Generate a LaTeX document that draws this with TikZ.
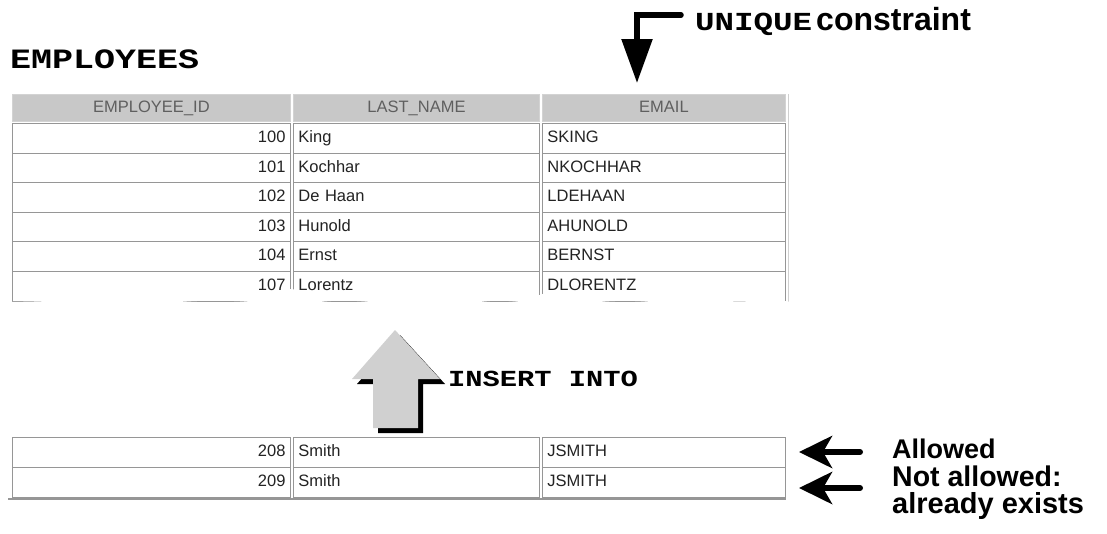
\documentclass[tikz,border=0pt]{standalone}
\usepackage{fontspec}
\setmainfont{Liberation Sans}
\newfontfamily\codefont{Liberation Mono}[FakeStretch=1.25]
\usetikzlibrary{arrows.meta}
\definecolor{ink}{RGB}{0,0,0}
\definecolor{paper}{RGB}{255,255,255}
\definecolor{headfill}{RGB}{200,200,200}
\definecolor{headtext}{RGB}{95,95,95}
\definecolor{celltext}{RGB}{35,35,35}
\definecolor{rule}{RGB}{150,150,150}
\definecolor{blockfill}{RGB}{208,208,208}
\tikzset{
  cell/.style={anchor=north west, draw=rule, line width=0.9pt, fill=white, minimum height=29.6pt, inner xsep=5pt, inner ysep=0pt, text height=11.5pt, text depth=3pt, font=\fontsize{16.5}{19}\selectfont, text=celltext},
  headcell/.style={cell, fill=headfill, draw=headfill!80!white, minimum height=27pt, align=center, font=\fontsize{16.5}{19}\selectfont, text=headtext},
  code/.style={text=ink, inner sep=0pt, anchor=base west},
  note/.style={font=\bfseries\fontsize{28.5}{24}\selectfont, text=ink, inner sep=0pt, anchor=base west},
  pointer/.style={-{Stealth[length=33pt,width=32pt,inset=9pt]}, line width=6pt, draw=ink, line cap=round},
  bendarrow/.style={-{Triangle[length=44pt,width=30pt]}, line width=5.5pt, draw=ink, line cap=round},
}
\newcommand{\TabRow}[5]{%
  \node[cell, text width=268pt, align=right] (#1-id) at (12,#2) {#3};
  \node[cell, text width=236pt, align=left] (#1-nm) at (293,#2) {#4};
  \node[cell, text width=233pt, align=left] (#1-em) at (542,#2) {#5};
}

\begin{document}
\begin{tikzpicture}[x=1pt,y=-1pt]
  \fill[paper] (0,0) rectangle (1107,533);
  \useasboundingbox (0,0) rectangle (1107,533);

  % Table title and header
  \node[code, font=\codefont\bfseries\fontsize{28}{32}\selectfont] (tbl) at (10,68) {EMPLOYEES};
  \node[headcell, text width=268pt] (h-id) at (12,94) {EMPLOYEE\_ID};
  \node[headcell, text width=236pt] (h-nm) at (293,94) {LAST\_NAME};
  \node[headcell, text width=233pt] (h-em) at (542,94) {EMAIL};

  % Existing rows
  \TabRow{r100}{123}{100}{King}{SKING}
  \TabRow{r101}{152.6}{101}{Kochhar}{NKOCHHAR}
  \TabRow{r102}{182.2}{102}{De Haan}{LDEHAAN}
  \TabRow{r103}{211.8}{103}{Hunold}{AHUNOLD}
  \TabRow{r104}{241.4}{104}{Ernst}{BERNST}
  \TabRow{r107}{271}{107}{Lorentz}{DLORENTZ}
  \draw[rule!45, line width=1pt] ([xshift=3pt]h-em.north east) -- ([xshift=3pt]r107-em.south east);

  % torn edge
  \fill[white] plot[smooth] coordinates {(0,302) (60,300) (110,288) (180,301) (250,301) (290,289) (320,301) (370,301) (437,288) (480,301) (520,301) (560,290) (600,301) (650,301) (690,290) (730,301) (770,300) (792,302)} -- (792,318) -- (0,318) -- cycle;

  % Unique constraint label
  \node[code] (uq) at (695,30) {{\codefont\bfseries\fontsize{26}{30}\selectfont UNIQUE}\hspace{4pt}{\bfseries\fontsize{32}{36}\selectfont constraint}};
  \coordinate (uq-from) at (681,15);
  \coordinate (uq-bend) at (637,15);
  \coordinate (uq-tip) at (637,83);
  \draw[bendarrow] (uq-from) -- (uq-bend) -- (uq-tip);

  % Insert block arrow
  \fill[ink, shift={(5,5)}] (373,428) -- (373,379) -- (352,379) -- (395,330) -- (440,379) -- (418,379) -- (418,428) -- cycle;
  \fill[blockfill] (373,428) -- (373,379) -- (352,379) -- (395,330) -- (440,379) -- (418,379) -- (418,428) -- cycle;
  \node[code, font=\codefont\bfseries\fontsize{23}{27}\selectfont] (ins) at (448,386) {INSERT INTO};

  % New rows
  \TabRow{r208}{437}{208}{Smith}{JSMITH}
  \TabRow{r209}{467}{209}{Smith}{JSMITH}
  \draw[rule, line width=2pt] ([xshift=-4pt,yshift=-1pt]r209-id.south west) -- ([yshift=-1pt]r209-em.south east);

  % Notes
  \node[note, font=\bfseries\fontsize{27}{27}\selectfont] (alw) at (892,458) {Allowed};
  \node[note, anchor=north west, align=left] (nal) at (892,466) {Not allowed:\\[3pt]{\fontsize{29}{24}\selectfont already exists}};
  \coordinate (ok-from) at (860,452);
  \coordinate (ok-to) at (799,452);
  \coordinate (dup-from) at (860,488);
  \coordinate (dup-to) at (799,488);
  \draw[pointer] (ok-from) -- (ok-to);
  \draw[pointer] (dup-from) -- (dup-to);
\end{tikzpicture}
\end{document}
